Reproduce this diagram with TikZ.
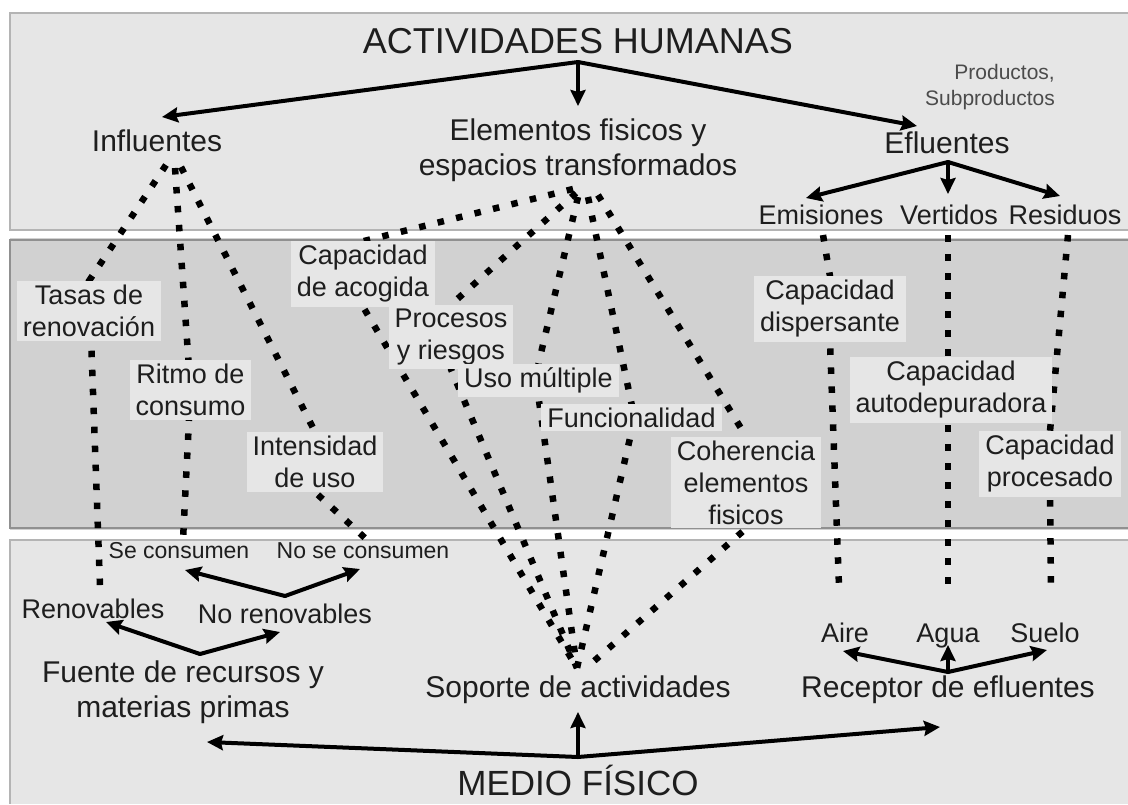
\documentclass[tikz,border=0pt]{standalone}
\usepackage{fontspec}
\setmainfont{Liberation Sans}
\usetikzlibrary{arrows.meta}
\definecolor{bandlight}{HTML}{E6E6E6}
\definecolor{banddark}{HTML}{D1D1D1}
\definecolor{bandedge}{HTML}{B4B4B4}
\definecolor{txt}{HTML}{1E1E1E}
\pgfdeclarelayer{bg}
\pgfsetlayers{bg,main}
\begin{document}
\begin{tikzpicture}[x=1pt,y=-1pt,
  lbl/.style={text=txt, align=center, inner sep=0pt, font=\fontsize{30}{35}\selectfont},
  big/.style={lbl, font=\fontsize{36}{40}\selectfont},
  small/.style={lbl, font=\fontsize{21}{26}\selectfont},
  mid/.style={lbl, font=\fontsize{27}{32}\selectfont},
  boxlbl/.style={mid, fill=bandlight, inner xsep=6pt, inner ysep=4pt},
  arr/.style={line width=4pt, line cap=round, -{Stealth[length=16pt,width=15pt,inset=2pt]}},
  dots/.style={line width=6.5pt, dash pattern=on 6.5pt off 12.5pt}
]
\useasboundingbox (0,0) rectangle (1128,804);

% ---------- text nodes ----------
\node[big] (act) at (578,41) {ACTIVIDADES HUMANAS};
\node[lbl] (inf) at (157,141) {Influentes};
\node[lbl] (elem) at (578,150) {Elementos fisicos y\\espacios transformados};
\node[lbl] (eflu) at (947,143) {Efluentes};
\node[small, align=right, text=txt!80] (prod) at (990,87) {Productos,\\Subproductos};
\node[mid] (emis) at (821,215) {Emisiones};
\node[mid] (vert) at (949,215) {Vertidos};
\node[mid] (resid) at (1065,215) {Residuos};

\node[boxlbl] (tasas) at (89,311) {Tasas de\\renovación};
\node[boxlbl] (ritmo) at (190.5,390) {Ritmo de\\consumo};
\node[boxlbl] (intens) at (315,462) {Intensidad\\de uso};
\node[boxlbl] (acog) at (363,274) {Capacidad\\de acogida};
\node[boxlbl] (proc) at (451,337) {Procesos\\y riesgos};
\node[boxlbl] (uso) at (538.5,380.5) {Uso múltiple};
\node[boxlbl] (func) at (631.5,417.5) {Funcionalidad};
\node[boxlbl] (coher) at (746,482.5) {Coherencia\\elementos\\fisicos};
\node[boxlbl] (disp) at (830,309) {Capacidad\\dispersante};
\node[boxlbl] (autod) at (951,390) {Capacidad\\autodepuradora};
\node[boxlbl] (procs) at (1050,464) {Capacidad\\procesado};

\node[small, font=\fontsize{23}{27}\selectfont] (secons) at (179,551) {Se consumen};
\node[small, font=\fontsize{23}{27}\selectfont] (nocons) at (363,551) {No se consumen};
\node[mid] (renov) at (93,609) {Renovables};
\node[mid] (norenov) at (285,614) {No renovables};
\node[lbl] (fuente) at (183,692) {Fuente de recursos y\\materias primas};
\node[lbl] (soporte) at (578,690) {Soporte de actividades};
\node[lbl] (receptor) at (948,690) {Receptor de efluentes};
\node[mid, anchor=base] (aire) at (845,642) {Aire};
\node[mid, anchor=base] (agua) at (948,642) {Agua};
\node[mid, anchor=base] (suelo) at (1045,642) {Suelo};
\node[big, anchor=base, font=\fontsize{35}{40}\selectfont] (medio) at (578,795) {MEDIO FÍSICO};

% ---------- hubs and free ends ----------
\coordinate (hubA) at (578,62);
\coordinate (tInf) at (162,117);
\coordinate (tElem) at (578,106);
\coordinate (tEflu) at (917,126);
\coordinate (hubE) at (948,162);
\coordinate (tEmis) at (806,198);
\coordinate (tVert) at (948,194);
\coordinate (tResid) at (1060,196);
\coordinate (hubS) at (285,596);
\coordinate (tSe) at (185,570);
\coordinate (tNo) at (360,569);
\coordinate (hubR) at (200,654);
\coordinate (tRen) at (106,622);
\coordinate (tNoR) at (280,632);
\coordinate (hubM) at (578,757);
\coordinate (tFue) at (207,742);
\coordinate (tSop) at (578,712);
\coordinate (tRec) at (940,727);
\coordinate (hubRec) at (948,672);
\coordinate (tAire) at (843,651);
\coordinate (tAgua) at (948,645);
\coordinate (tSuelo) at (1047,650);

\coordinate (infA) at (166,165);
\coordinate (infB) at (175,168);
\coordinate (infC) at (181,167);
\coordinate (renT) at (100,586);
\coordinate (seT) at (183,540);
\coordinate (noT) at (365,538);
\coordinate (elA) at (573,189);
\coordinate (elB) at (576,193);
\coordinate (elC) at (578,197);
\coordinate (elD) at (588,197);
\coordinate (elE) at (598,195);
\coordinate (sopT) at (577,668);
\coordinate (sopT2) at (586,668);
\coordinate (emB) at (823,235);
\coordinate (veB) at (948,235);
\coordinate (reB) at (1068,235);
\coordinate (aiT) at (839,586);
\coordinate (agT) at (948,586);
\coordinate (suT) at (1051,586);

% ---------- background and dotted links ----------
\begin{pgfonlayer}{bg}
\fill[white] (0,0) rectangle (1128,804);
\fill[bandlight] (10,13) rectangle (1128,230);
\draw[bandedge, line width=2pt] (1128,13) -- (10,13) -- (10,230) -- (1128,230);
\fill[banddark] (10,238) rectangle (1128,530);
\draw[bandedge!80!black, line width=2pt] (1128,240) -- (10,240) -- (10,528) -- (1128,528);
\fill[bandlight] (10,540) rectangle (1128,804);
\draw[bandedge, line width=2pt] (1128,540) -- (10,540) -- (10,804);

\draw[dots] (infA) -- (tasas.north) -- (renT);
\draw[dots] (infB) -- (ritmo.center) -- (seT);
\draw[dots] (infC) -- (intens.north) -- (intens.south) -- (noT);
\draw[dots] (elA) -- (acog.north) -- (acog.south) -- (sopT);
\draw[dots] (elB) -- (proc.north) -- (proc.south) -- (sopT);
\draw[dots] (elC) -- (uso.north) -- (uso.south) -- (sopT);
\draw[dots] (elD) -- (func.north) -- (func.south) -- (sopT);
\draw[dots] (elE) -- (coher.north) -- (coher.south) -- (sopT2);
\draw[dots] (emB) -- (disp.north) -- (disp.south) -- (aiT);
\draw[dots] (veB) -- (agT);
\draw[dots] (reB) -- (procs.north) -- (procs.south) -- (suT);
\end{pgfonlayer}

% ---------- solid arrows ----------
\draw[arr] (hubA) -- (tInf);
\draw[arr] (hubA) -- (tElem);
\draw[arr] (hubA) -- (tEflu);
\draw[arr] (hubE) -- (tEmis);
\draw[arr] (hubE) -- (tVert);
\draw[arr] (hubE) -- (tResid);
\draw[arr] (hubS) -- (tSe);
\draw[arr] (hubS) -- (tNo);
\draw[arr] (hubR) -- (tRen);
\draw[arr] (hubR) -- (tNoR);
\draw[arr] (hubM) -- (tFue);
\draw[arr] (hubM) -- (tSop);
\draw[arr] (hubM) -- (tRec);
\draw[arr] (hubRec) -- (tAire);
\draw[arr] (hubRec) -- (tAgua);
\draw[arr] (hubRec) -- (tSuelo);
\end{tikzpicture}
\end{document}
